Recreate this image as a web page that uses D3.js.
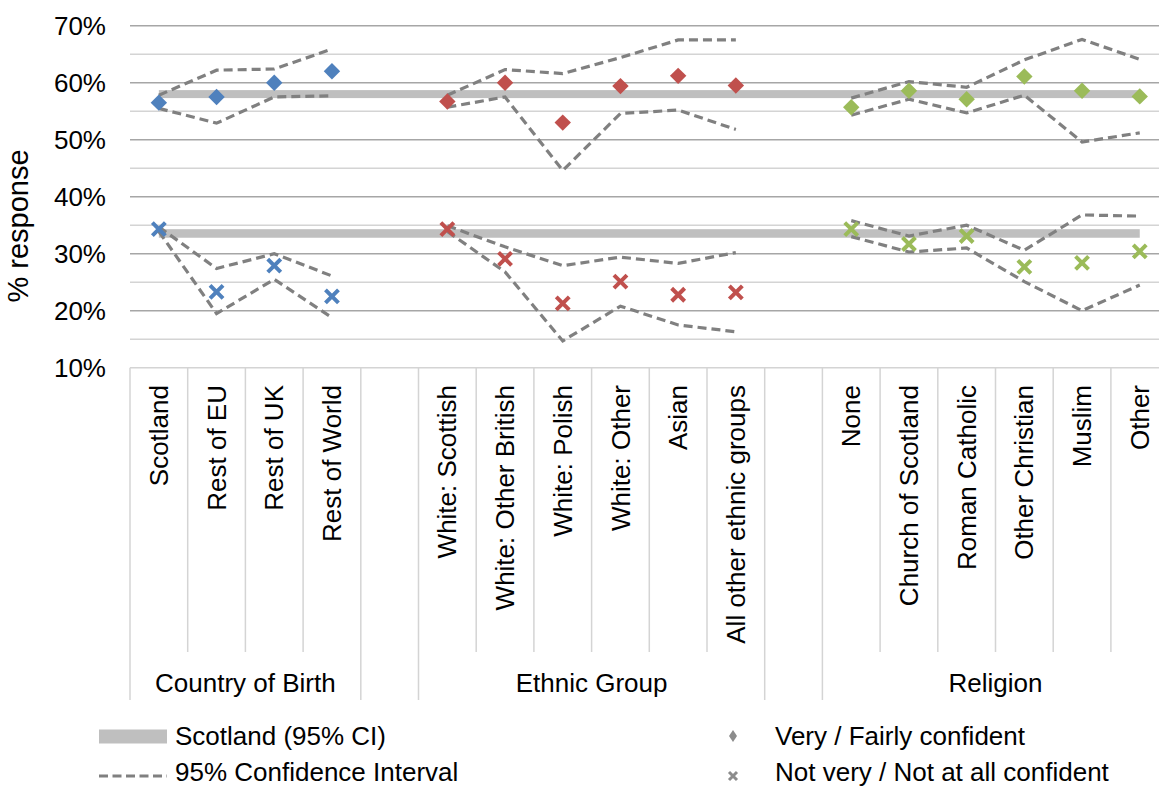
<!DOCTYPE html>
<html>
<head>
<meta charset="utf-8">
<script src="https://cdn.jsdelivr.net/npm/d3@7"></script>
<style>
  body { margin: 0; background: #fff; }
  text { font-family: 'Liberation Sans', Arial, sans-serif; fill: #000; }
</style>
</head>
<body>
<svg id="chart"></svg>
<script>
// groups and their categories
const groupNames = ['Country of Birth', 'Ethnic Group', 'Religion']
const groupCategories = [
  ['Scotland', 'Rest of EU', 'Rest of UK', 'Rest of World'],
  ['White: Scottish', 'White: Other British', 'White: Polish', 'White: Other', 'Asian', 'All other ethnic groups'],
  ['None', 'Church of Scotland', 'Roman Catholic', 'Other Christian', 'Muslim', 'Other']
]
const groupColors = ['#4f81bd', '#c0504d', '#9bbb59']

// % values, one per category in order
const confident = [56.5, 57.5, 60.0, 62.0, 56.7, 60.0, 53.0, 59.4, 61.2, 59.5, 55.7, 58.6, 57.1, 61.1, 58.6, 57.6]
const confidentUpper = [57.8, 62.2, 62.4, 65.9, 57.8, 62.3, 61.6, 64.4, 67.5, 67.5, 57.3, 60.2, 59.2, 64.0, 67.6, 64.1]
const confidentLower = [55.5, 52.9, 57.5, 57.7, 55.7, 57.5, 44.6, 54.6, 55.2, 51.8, 54.3, 57.1, 54.7, 57.8, 49.6, 51.2]
const notConfident = [34.3, 23.3, 27.9, 22.5, 34.3, 29.1, 21.3, 25.1, 22.8, 23.2, 34.3, 31.7, 33.1, 27.7, 28.4, 30.4]
const notConfidentUpper = [34.7, 27.4, 30.0, 26.1, 34.9, 31.2, 27.9, 29.4, 28.3, 30.2, 35.8, 33.1, 35.0, 30.6, 36.8, 36.6]
const notConfidentLower = [33.9, 19.5, 25.5, 18.8, 33.9, 26.8, 14.7, 20.8, 17.5, 16.3, 33.0, 30.3, 31.0, 25.1, 20.0, 24.5]

// Scotland 95% CI bands (low, high)
const scotlandLow = [57.3, 32.8]
const scotlandHigh = [58.7, 34.3]

const yTicks = [10, 20, 30, 40, 50, 60, 70]
const yGrid = [15, 25, 35, 45, 55, 65]

const width = 1159
const height = 787

const svg = d3.select('#chart')
  .attr('width', width)
  .attr('height', height)

// flat list of slots, with an empty slot between groups
const slots = []
const points = []
groupCategories.forEach((cats, g) => {
  cats.forEach((c) => {
    const i = points.length
    slots.push(c)
    points.push({ slot: c, group: g, i: i })
  })
  if (g < groupCategories.length - 1) slots.push(`gap${g}`)
})

const xScale = d3.scaleBand()
  .domain(slots)
  .range([130, 130 + slots.length * 57.7])
  .padding(0)

const yScale = d3.scaleLinear()
  .domain([10, 70])
  .range([367.7, 25.7])

const cx = (slot) => xScale(slot) + xScale.bandwidth() / 2

// gridlines
svg.append('g')
  .selectAll('line')
  .data(yGrid)
  .join('line')
  .attr('x1', 130)
  .attr('x2', width)
  .attr('y1', (d) => yScale(d))
  .attr('y2', (d) => yScale(d))
  .attr('stroke', '#d4d4d4')
  .attr('stroke-width', 1.5)

svg.append('g')
  .selectAll('line')
  .data(yTicks.filter((d) => d > 10))
  .join('line')
  .attr('x1', 130)
  .attr('x2', width)
  .attr('y1', (d) => yScale(d))
  .attr('y2', (d) => yScale(d))
  .attr('stroke', '#a6a6a6')
  .attr('stroke-width', 1.5)

// y axis labels
const yAxis = svg.append('g')
  .attr('transform', 'translate(106, 0)')
  .call(d3.axisLeft(yScale)
    .tickValues(yTicks)
    .tickSize(0)
    .tickPadding(0)
    .tickFormat((d) => `${d}%`))
yAxis.select('.domain').remove()
yAxis.selectAll('text')
  .attr('font-size', 26)
  .attr('font-family', "'Liberation Sans', Arial, sans-serif")
  .attr('fill', '#000')
  .attr('dy', '0.35em')

svg.append('text')
  .attr('transform', 'translate(28, 226) rotate(-90)')
  .style('text-anchor', 'middle')
  .attr('font-size', 29)
  .text('% response')

// category axis: base line and slot boundaries
svg.append('line')
  .attr('x1', 130)
  .attr('x2', width)
  .attr('y1', yScale(10))
  .attr('y2', yScale(10))
  .attr('stroke', '#d4d4d4')
  .attr('stroke-width', 1.5)

const groupEdges = new Set()
let edgeIndex = 0
groupCategories.forEach((cats, g) => {
  groupEdges.add(edgeIndex)
  edgeIndex += cats.length
  groupEdges.add(edgeIndex)
  edgeIndex += 1
})

svg.append('g')
  .selectAll('line')
  .data(d3.range(slots.length + 1))
  .join('line')
  .attr('x1', (i) => xScale.range()[0] + i * xScale.bandwidth())
  .attr('x2', (i) => xScale.range()[0] + i * xScale.bandwidth())
  .attr('y1', yScale(10))
  .attr('y2', (i) => groupEdges.has(i) ? 700 : 652)
  .attr('stroke', '#d4d4d4')
  .attr('stroke-width', 1.5)

svg.append('g')
  .selectAll('text')
  .data(points)
  .join('text')
  .attr('transform', (d) => `translate(${cx(d.slot)}, 385) rotate(-90)`)
  .attr('dy', '0.35em')
  .style('text-anchor', 'end')
  .attr('font-size', 26)
  .text((d) => d.slot)

svg.append('g')
  .selectAll('text')
  .data(groupNames)
  .join('text')
  .attr('x', (d, g) => {
    const cats = groupCategories[g]
    return (xScale(cats[0]) + xScale(cats[cats.length - 1]) + xScale.bandwidth()) / 2
  })
  .attr('y', 692)
  .style('text-anchor', 'middle')
  .attr('font-size', 26)
  .text((d) => d)

// Scotland CI bands
const firstSlot = points[0].slot
const lastSlot = points[points.length - 1].slot
svg.append('g')
  .selectAll('rect')
  .data(scotlandLow)
  .join('rect')
  .attr('x', cx(firstSlot))
  .attr('width', cx(lastSlot) - cx(firstSlot))
  .attr('y', (d, i) => yScale(scotlandHigh[i]))
  .attr('height', (d, i) => yScale(d) - yScale(scotlandHigh[i]))
  .attr('fill', '#bfbfbf')

// dashed confidence interval lines, one path per group
const line = d3.line()
  .x((d) => cx(d.p.slot))
  .y((d) => yScale(d.v))

const ciSeries = [confidentUpper, confidentLower, notConfidentUpper, notConfidentLower]
ciSeries.forEach((series) => {
  groupCategories.forEach((cats, g) => {
    const data = points.filter((p) => p.group === g).map((p) => ({ p: p, v: series[p.i] }))
    svg.append('path')
      .datum(data)
      .attr('d', line)
      .attr('fill', 'none')
      .attr('stroke', '#808080')
      .attr('stroke-width', 3.2)
      .attr('stroke-dasharray', '9,5')
  })
})

// markers
const diamond = d3.symbol().type(d3.symbolSquare).size(135)

svg.append('g')
  .selectAll('path')
  .data(points)
  .join('path')
  .attr('d', diamond)
  .attr('transform', (d) => `translate(${cx(d.slot)}, ${yScale(confident[d.i])}) rotate(45)`)
  .attr('fill', (d) => groupColors[d.group])

const crossPath = 'M-6.5,-6.5L6.5,6.5M-6.5,6.5L6.5,-6.5'
svg.append('g')
  .selectAll('path')
  .data(points)
  .join('path')
  .attr('d', crossPath)
  .attr('transform', (d) => `translate(${cx(d.slot)}, ${yScale(notConfident[d.i])})`)
  .attr('stroke', (d) => groupColors[d.group])
  .attr('stroke-width', 4)
  .attr('fill', 'none')

// legend
const legend = svg.append('g')

legend.append('rect')
  .attr('x', 99)
  .attr('y', 729.5)
  .attr('width', 68)
  .attr('height', 14)
  .attr('fill', '#bfbfbf')

legend.append('line')
  .attr('x1', 99)
  .attr('x2', 167)
  .attr('y1', 776)
  .attr('y2', 776)
  .attr('stroke', '#808080')
  .attr('stroke-width', 3)
  .attr('stroke-dasharray', '9,4.5')

legend.append('path')
  .attr('d', 'M0,-6L4,0L0,6L-4,0Z')
  .attr('transform', 'translate(733, 736)')
  .attr('fill', '#8c8c8c')

legend.append('path')
  .attr('d', 'M-4,-4L4,4M-4,4L4,-4')
  .attr('transform', 'translate(733, 776)')
  .attr('stroke', '#8c8c8c')
  .attr('stroke-width', 3)

const legendText = [
  { x: 175, y: 745, t: 'Scotland (95% CI)' },
  { x: 175, y: 781, t: '95% Confidence Interval' },
  { x: 775, y: 745, t: 'Very / Fairly confident' },
  { x: 775, y: 781, t: 'Not very / Not at all confident' }
]
legend.selectAll('text')
  .data(legendText)
  .join('text')
  .attr('x', (d) => d.x)
  .attr('y', (d) => d.y)
  .attr('font-size', 26)
  .text((d) => d.t)
</script>
</body>
</html>
